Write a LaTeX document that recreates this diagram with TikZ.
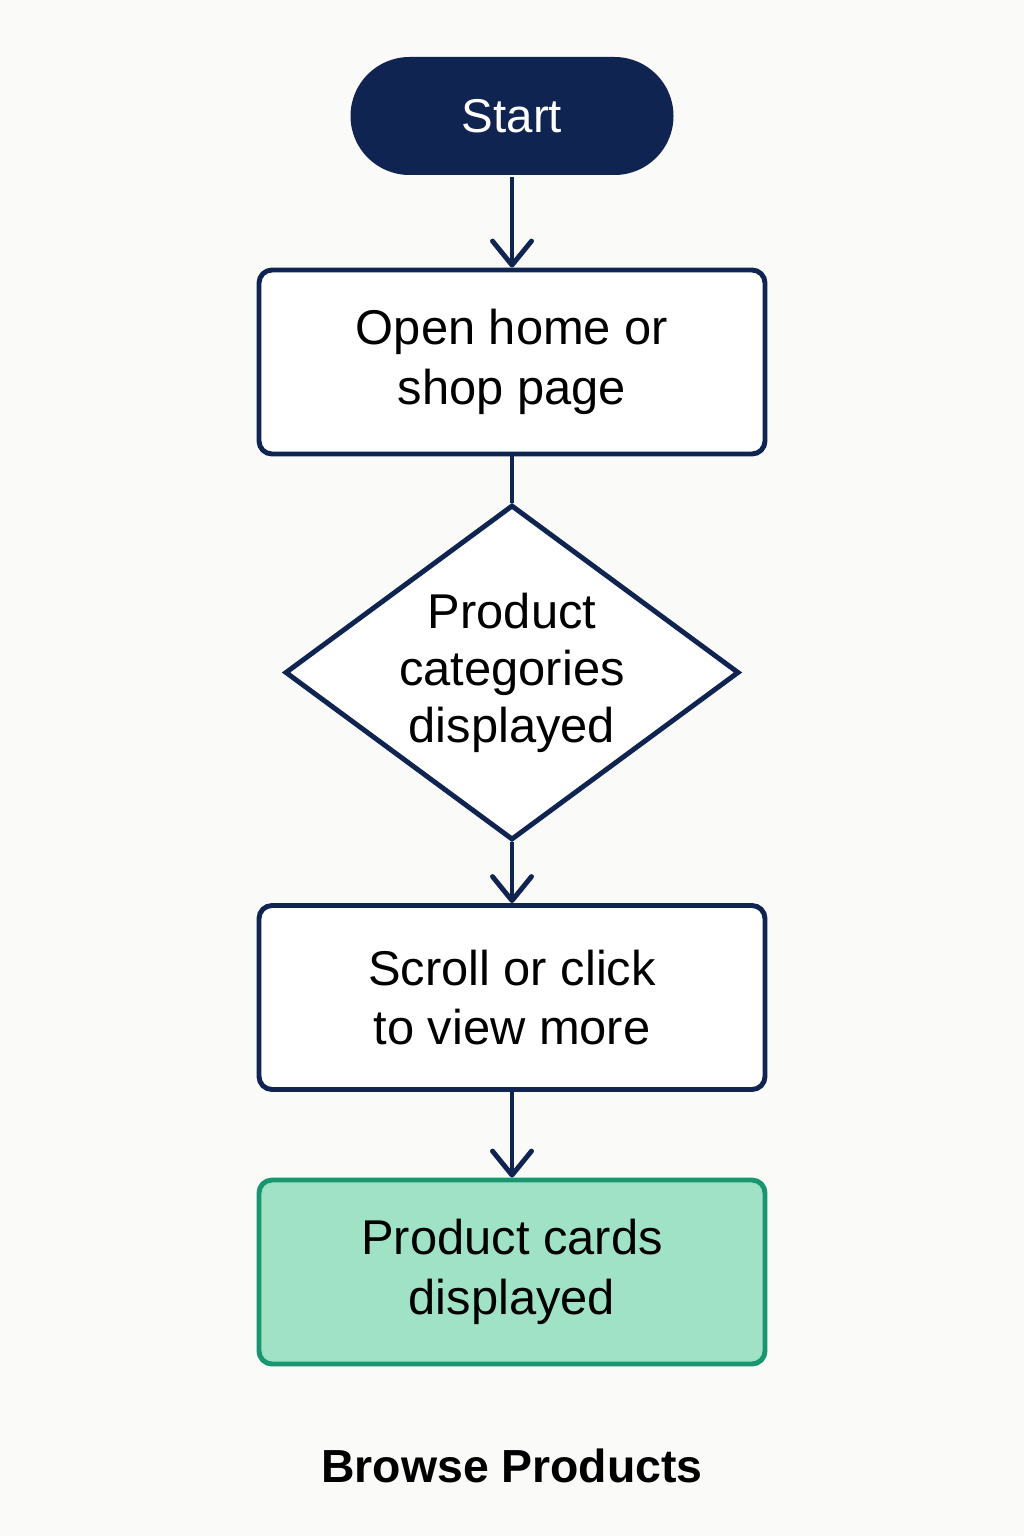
\documentclass[tikz,border=0pt]{standalone}
\usepackage{fontspec}
\setmainfont{Liberation Sans}
\usepackage{xcolor}
\usepackage{tikz}
\usetikzlibrary{arrows.meta, shapes.geometric}
\definecolor{colNavy}{RGB}{16,36,82}
\definecolor{colMint}{RGB}{159,226,198}
\definecolor{colGreen}{RGB}{24,150,112}
\definecolor{colBg}{RGB}{250,250,248}

\begin{document}
\begin{tikzpicture}[>={Straight Barb[length=2.4mm, width=3.9mm, round]},
    line width=1.4pt,
    stepbox/.style={draw=colNavy, fill=white, rounded corners=1.3mm,
        minimum width=5.06cm, minimum height=1.84cm, inner sep=0pt,
        align=center, font=\fontsize{13.9}{17}\selectfont},
    flow/.style={draw=colNavy, line width=1.4pt}]

\def\cx{5.12}

% Fond
\fill[colBg] (0,0) rectangle (10.24,-15.36);
\useasboundingbox (0,0) rectangle (10.24,-15.36);

% Start
\node[fill=colNavy, rounded corners=5.9mm, minimum width=3.23cm,
      minimum height=1.18cm, text=white, font=\fontsize{13.5}{16}\selectfont]
    (start) at (\cx, -1.16) {Start};

% Boxes
\node[stepbox] (open) at (\cx, -3.62) {Open home or\\shop page};
\node[draw=colNavy, fill=white, diamond, minimum width=4.54cm,
      minimum height=3.35cm, inner sep=0pt,
      label={[align=center, font=\fontsize{13.9}{16.2}\selectfont]center:Product\\categories\\displayed}]
    (cats) at (\cx, -6.725) {};
\node[stepbox] (scroll) at (\cx, -9.975) {Scroll or click\\to view more};
\node[stepbox, draw=colGreen, fill=colMint] (cards) at (\cx, -12.72)
    {Product cards\\displayed};

% Connecteurs
\draw[flow, ->] (start) -- (open);
\draw[flow] (open) -- (cats);
\draw[flow, ->] (cats) -- (scroll);
\draw[flow, ->] (scroll) -- (cards);

% Titre
\node[font=\fontsize{13.2}{16}\selectfont\bfseries] (title) at (\cx, -14.66)
    {Browse Products};

\end{tikzpicture}
\end{document}
